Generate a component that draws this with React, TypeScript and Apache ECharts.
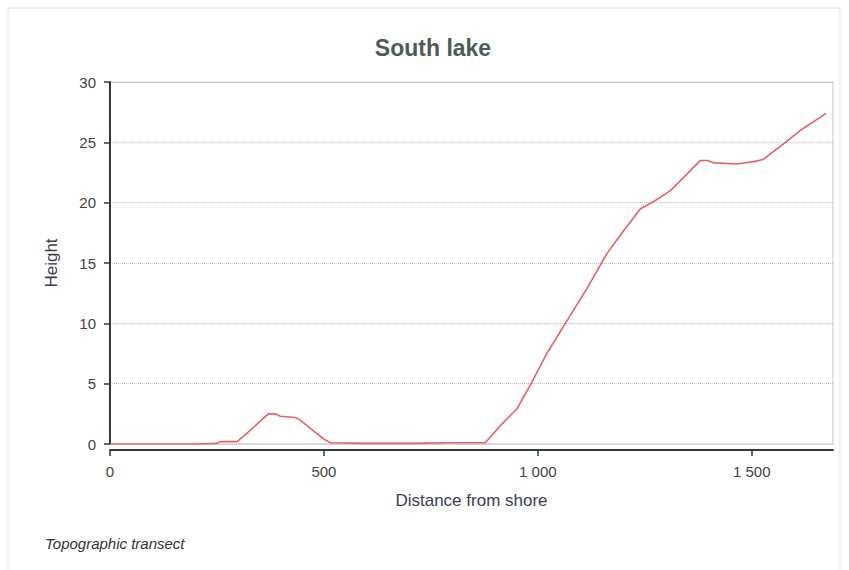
import React, { useEffect, useRef } from "react";
import * as echarts from "echarts";

const title = "South lake";
const xName = "Distance from shore";
const yName = "Height";
const footer = "Topographic transect";

const distance = [0, 100, 200, 250, 258, 297, 330, 370, 386, 398, 433, 444, 472, 500, 515, 600, 700, 800, 877, 912, 951, 986, 1021, 1068, 1115, 1162, 1201, 1240, 1271, 1310, 1341, 1380, 1396, 1411, 1466, 1505, 1528, 1575, 1614, 1674];
const height = [0, 0, 0, 0.05, 0.2, 0.2, 1.2, 2.5, 2.5, 2.3, 2.2, 2.0, 1.2, 0.4, 0.1, 0.05, 0.05, 0.1, 0.1, 1.5, 2.9, 5.1, 7.5, 10.2, 12.9, 15.8, 17.7, 19.5, 20.1, 21.0, 22.1, 23.5, 23.5, 23.3, 23.2, 23.4, 23.6, 24.9, 26.0, 27.4];

const fmt = (v: number) => String(v).replace(/\B(?=(\d{3})+(?!\d))/g, " ");

export default function App() {
  const ref = useRef<HTMLDivElement>(null);
  useEffect(() => {
    document.body.style.margin = "0";
    const chart = echarts.init(ref.current!, null, { renderer: "svg" });
    const sans = "'Liberation Sans', Arial, sans-serif";
    chart.setOption({
      animation: false,
      backgroundColor: "#ffffff",
      grid: { left: 110, right: 16, top: 82, bottom: 126, show: true, borderColor: "#d0c4c6", borderWidth: 1 },
      xAxis: {
        type: "value",
        min: 0,
        max: 1690,
        interval: 500,
        offset: 6,
        name: xName,
        nameLocation: "middle",
        nameGap: 42,
        nameTextStyle: { fontSize: 17, color: "#3c3c58", fontFamily: sans },
        axisLine: { show: true, onZero: false, lineStyle: { color: "#2f3a3a", width: 2 } },
        axisTick: { show: true, length: 6, lineStyle: { color: "#2f3a3a", width: 1.5 } },
        axisLabel: { formatter: fmt, fontSize: 15, color: "#444", margin: 14, fontFamily: sans, showMaxLabel: false },
        splitLine: { show: false },
      },
      yAxis: {
        type: "value",
        min: 0,
        max: 30,
        interval: 5,
        offset: 6,
        name: yName,
        nameLocation: "middle",
        nameGap: 44,
        nameTextStyle: { fontSize: 17, color: "#3c3c48", fontFamily: sans },
        axisLine: { show: true, lineStyle: { color: "#2f3a3a", width: 2 } },
        axisTick: { show: true, length: 6, lineStyle: { color: "#2f3a3a", width: 1.5 } },
        axisLabel: { fontSize: 15, color: "#444", margin: 8, fontFamily: sans },
        splitLine: { show: true, lineStyle: { color: "#bdbdc4", type: "dotted", width: 1 } },
      },
      series: [
        {
          type: "line",
          data: distance.map((d, i) => [d, height[i]]),
          showSymbol: false,
          lineStyle: { color: "#e5606a", width: 1.6 },
          itemStyle: { color: "#e5606a" },
        },
      ],
      graphic: [
        {
          type: "rect",
          shape: { x: 8, y: 8, width: 832, height: 570 },
          style: { fill: "none", stroke: "#e2e2e2", lineWidth: 1 },
          silent: true,
        },
        {
          type: "text",
          x: 433,
          y: 48,
          style: {
            text: title,
            fontSize: 23,
            fontWeight: "bold",
            fill: "#4d5b58",
            align: "center",
            verticalAlign: "middle",
            fontFamily: sans,
          },
        },
        {
          type: "text",
          x: 45,
          y: 543,
          style: {
            text: footer,
            fontSize: 15,
            fontStyle: "italic",
            fill: "#333",
            verticalAlign: "middle",
            fontFamily: sans,
          },
        },
      ],
    });
    return () => chart.dispose();
  }, []);
  return <div ref={ref} style={{ width: 849, height: 570 }} />;
}
